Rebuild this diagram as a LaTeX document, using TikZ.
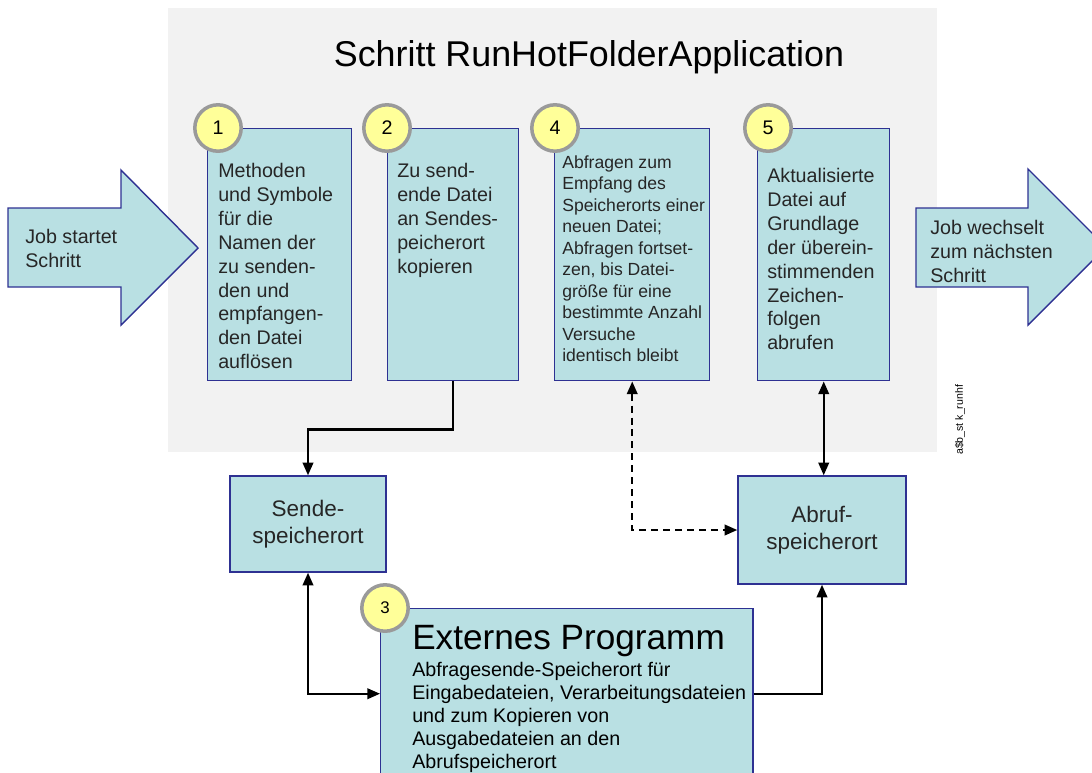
\documentclass[tikz,border=0pt]{standalone}
\usepackage{fontspec}
\setmainfont{Liberation Sans}
\usetikzlibrary{arrows.meta}
\definecolor{boxfill}{HTML}{B9E0E3}
\definecolor{boxline}{HTML}{2E3192}
\definecolor{bggray}{HTML}{F2F2F2}
\definecolor{badgefill}{HTML}{FFFF99}
\definecolor{badgering}{HTML}{9A9A9A}
\definecolor{txtgray}{HTML}{262626}
\begin{document}
\begin{tikzpicture}[x=0.025cm, y=-0.025cm,
    stepbox/.style={draw=boxline, fill=boxfill, line width=1pt, anchor=north west, inner sep=0pt, minimum height=6.3cm},
    steptext/.style={anchor=north west, inner sep=0pt, align=left, text=txtgray, font=\fontsize{14}{17}\selectfont},
    badge/.style={circle, draw=badgering, fill=badgefill, line width=2.5pt, minimum size=1.16cm, inner sep=0pt, font=\fontsize{14}{16}\selectfont},
    store/.style={draw=boxline, fill=boxfill, line width=1pt, align=center, text=txtgray, font=\fontsize{16}{19.5}\selectfont},
    bigarrow/.style={draw=boxline, fill=boxfill, line width=1pt, line join=miter},
    conn/.style={line width=1.5pt, -{Triangle[length=9pt,width=7.5pt]}},
    both/.style={line width=1.5pt, {Triangle[length=9pt,width=7.5pt]}-{Triangle[length=9pt,width=7.5pt]}}]
    \useasboundingbox (0,0) rectangle (1092,772);
    \clip (0,0) rectangle (1092,772);

    % Hintergrund des Schritts
    \fill[bggray] (168,8) rectangle (937,452);
    \node[font=\fontsize{25.5}{30}\selectfont] (title) at (589,57) {Schritt RunHotFolderApplication};

    % Pfeile links und rechts
    \draw[bigarrow] (8,208) -- (121,208) -- (121,170) -- (198,248) -- (121,325) -- (121,287) -- (8,287) -- cycle;
    \node[steptext] (jobin) at (25,229) {Job startet\\Schritt};
    \draw[bigarrow] (916,208) -- (1028,208) -- (1028,169) -- (1106,247) -- (1028,325) -- (1028,287) -- (916,287) -- cycle;
    \node[steptext] (jobout) at (930,220) {Job wechselt\\zum nächsten\\Schritt};

    % Schritte 1, 2, 4, 5
    \node[stepbox, minimum width=3.6cm] (s1) at (207,128) {};
    \node[stepbox, minimum width=3.275cm] (s2) at (387,128) {};
    \node[stepbox, minimum width=3.875cm] (s4) at (554,128) {};
    \node[stepbox, minimum width=3.3cm] (s5) at (757,128) {};

    \node[steptext] (t1) at (218,163) {Methoden\\und Symbole\\für die\\Namen der\\zu senden-\\den und\\empfangen-\\den Datei\\auflösen};
    \node[steptext] (t2) at (397,163) {Zu send-\\ende Datei\\an Sendes-\\peicherort\\kopieren};
    \node[steptext, font=\fontsize{12.5}{15.3}\selectfont] (t4) at (562,155) {Abfragen zum\\Empfang des\\Speicherorts einer\\neuen Datei;\\Abfragen fortset-\\zen, bis Datei-\\größe für eine\\bestimmte Anzahl\\Versuche\\identisch bleibt};
    \node[steptext] (t5) at (767,168) {Aktualisierte\\Datei auf\\Grundlage\\der überein-\\stimmenden\\Zeichen-\\folgen\\abrufen};

    % Speicherorte
    \node[store, minimum width=3.9cm, minimum height=2.4cm] (sende) at (308,524) {Sende-\\speicherort};
    \node[store, minimum width=4.2cm, minimum height=2.7cm] (abruf) at (822,530) {Abruf-\\speicherort};

    % externes Programm
    \node[draw=boxline, fill=boxfill, line width=1pt, anchor=north west, inner sep=0pt, minimum width=9.3cm, minimum height=4.25cm] (extern) at (380,608) {};
    \node[anchor=north west, inner sep=0pt, font=\fontsize{25}{30}\selectfont] (exttitle) at (412,625) {Externes Programm};
    \node[anchor=north west, inner sep=0pt, align=left, font=\fontsize{14}{16.3}\selectfont] (extbody) at (412,662) {Abfragesende-Speicherort für\\Eingabedateien, Verarbeitungsdateien\\und zum Kopieren von\\Ausgabedateien an den\\Abrufspeicherort};

    % Nummern
    \node[badge] (n1) at (218,128) {1};
    \node[badge] (n2) at (387,128) {2};
    \node[badge] (n4) at (555,128) {4};
    \node[badge] (n5) at (768,128) {5};
    \node[badge, font=\fontsize{12}{14}\selectfont] (n3) at (385,608) {3};

    % Verbindungen
    \draw[conn] (s2.south) -- ++(0,48) -| (sende.north);
    \draw[both] (sende.south) |- (extern.west);
    \draw[both, dash pattern=on 5pt off 3.5pt] (s4.south) |- (abruf.west);
    \draw[both] (s5.south) -- (s5.south |- abruf.north);
    \draw[conn] (extern.east) -| (abruf.south);

    \node[rotate=90, anchor=west, inner sep=0pt, font=\fontsize{7.5}{9}\selectfont] (tag) at (960,455) {a\$b\_st k\_runhf};
\end{tikzpicture}
\end{document}
